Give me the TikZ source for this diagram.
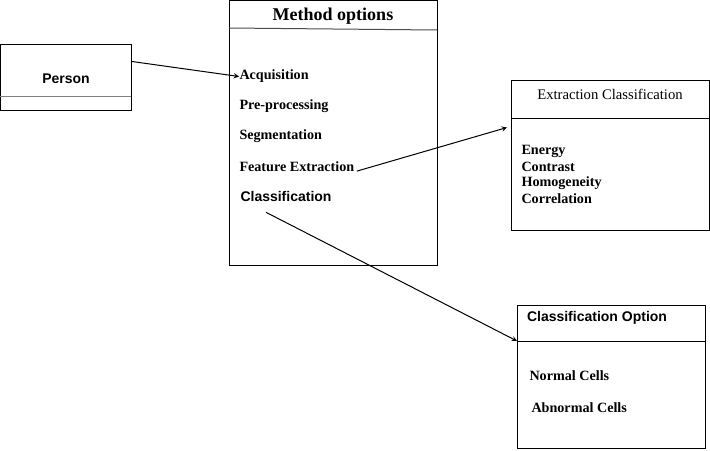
\documentclass[tikz,border=0pt]{standalone}
\usepackage{fontspec}
\setmainfont{Liberation Serif}
\setsansfont{Liberation Sans}
\usepackage{tikz}
\usetikzlibrary{positioning}
\usetikzlibrary{shapes, arrows}

\begin{document}
\begin{tikzpicture}[
      x=0.75pt, y=-0.75pt,
      line width=0.75pt,
      box/.style={draw, rectangle, inner sep=0pt, anchor=north west},
      item/.style={anchor=west, inner sep=0pt, font=\bfseries\fontsize{10.6}{13}\selectfont},
      smallitem/.style={anchor=west, inner sep=0pt, font=\bfseries\fontsize{10.6}{12}\selectfont},
      sansitem/.style={anchor=west, inner sep=0pt, font=\sffamily\bfseries\fontsize{10.5}{12}\selectfont},
      divider/.style={line width=0.75pt},
      trans/.style={->, >=stealth, line width=0.75pt}
    ]
    \useasboundingbox (0,0) rectangle (710,450);

    % boxes
    \node(person)[box, minimum width=98.25pt, minimum height=49.5pt] at (0,44) {};
    \node(method)[box, minimum width=156pt, minimum height=198.75pt] at (229,0) {};
    \node(exbox)[box, minimum width=148.5pt, minimum height=112.5pt] at (511,80) {};
    \node(cobox)[box, minimum width=141pt, minimum height=107.25pt] at (517,305) {};

    \draw [divider, gray] (0,96) -- (131,96);
    \draw [divider, gray!60!black] (229,28) -- (437,30);
    \draw [divider] (511,118) -- (709,118);
    \draw [divider] (517,341) -- (705,341);

    % titles
    \node(ptitle) at (66,79) {\sffamily\bfseries\fontsize{10.5}{12}\selectfont Person};
    \node(mtitle) at (333,16.5) {\bfseries\fontsize{13.5}{16}\selectfont Method options};
    \node(etitle) at (610,94) {\fontsize{11}{13}\selectfont Extraction Classification};
    \node(ctitle) at (597,318) {\sffamily\bfseries\fontsize{10.5}{12}\selectfont Classification Option};

    % method steps
    \node(acq)[item] at (239,76.5) {Acquisition};
    \node(pre)[item] at (239,106.5) {Pre-processing};
    \node(seg)[item] at (239,136.5) {Segmentation};
    \node(feat)[item] at (239,166.5) {Feature Extraction};
    \node(cls)[sansitem] at (240,196) {Classification};

    % features
    \node(ene)[smallitem] at (521,151) {Energy};
    \node(con)[smallitem] at (521,167) {Contrast};
    \node(hom)[smallitem] at (521,183) {Homogeneity};
    \node(cor)[smallitem] at (521,199) {Correlation};

    % classes
    \node(nor)[smallitem] at (529,376) {Normal Cells};
    \node(abn)[smallitem] at (531,408) {Abnormal Cells};

    \draw [trans] ([yshift=12pt]person.east) -- (acq.west);
    \draw [trans] ([xshift=1.5pt,yshift=-3.5pt]feat.east) -- ([xshift=-3pt,yshift=21pt]exbox.west);
    \draw [trans] ([xshift=-15pt,yshift=-8pt]cls.south) -- ([yshift=-27pt]cobox.north west);
    \end{tikzpicture}
\end{document}
